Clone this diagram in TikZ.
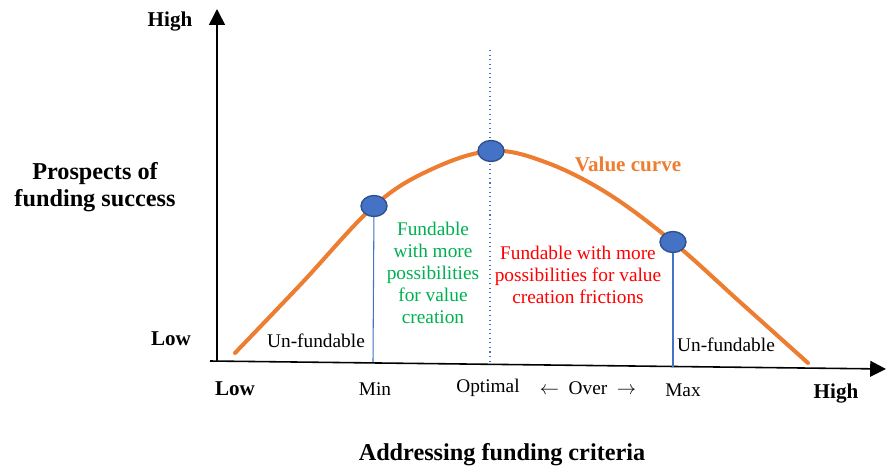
\documentclass[tikz,border=0pt]{standalone}
\usepackage{fontspec}
\setmainfont{Liberation Serif}
\usetikzlibrary{arrows.meta,shapes.geometric}
\definecolor{curveorange}{RGB}{237,125,49}
\definecolor{dotblue}{RGB}{68,114,196}
\definecolor{dotedge}{RGB}{47,82,143}
\definecolor{fundgreen}{RGB}{0,176,80}
\definecolor{fundred}{RGB}{255,0,0}

\begin{document}
\begin{tikzpicture}[x=0.02cm,y=-0.02cm,
  valdot/.style={ellipse,draw=dotedge,fill=dotblue,line width=0.8pt,minimum width=0.52cm,minimum height=0.42cm,inner sep=0pt},
  lbl/.style={font=\fontsize{11}{12.5}\selectfont},
  endlbl/.style={font=\fontsize{12}{14}\selectfont\bfseries},
  axtitle/.style={font=\fontsize{13.8}{15.5}\selectfont\bfseries,align=center},
  axisline/.style={line width=0.9pt,-{Triangle[length=9pt,width=9pt]}},
  guide/.style={dotblue,line width=0.6pt}]
\useasboundingbox (0,0) rectangle (887,467);

% axes
\coordinate (origin) at (217,362);
\coordinate (ytop) at (217,9);
\coordinate (xleft) at (210,361);
\coordinate (xright) at (886,369);
\draw[axisline] (origin) -- (ytop);
\draw[axisline] (xleft) -- (xright);

% guide lines
\coordinate (minbase) at (373,362);
\coordinate (opttop) at (490,50);
\coordinate (optbase) at (490,363);
\coordinate (maxbase) at (673,367);
\draw[guide,dotted] (opttop) -- (optbase);

% value curve
\draw[curveorange,line width=2.3pt,line cap=round] plot[smooth,tension=0.6] coordinates
  {(235,353) (301,284) (374,206) (430,170) (491,151) (545,162) (607,193) (673,242) (740,302) (808,363)};

\node[valdot] (mn) at (374,206) {};
\node[valdot] (pk) at (491,151) {};
\node[valdot] (mx) at (673,242) {};
\draw[guide] (mn) -- (minbase);
\draw[guide] (mx) -- (maxbase);

% axis labels
\node[endlbl] (yhigh) at (170,22) {High};
\node[endlbl] (ylow) at (171,339) {Low};
\node[axtitle] (ytitle) at (95,187) {Prospects of\\funding success};
\node[endlbl] (xlow) at (235,389) {Low};
\node[lbl] (xmin) at (375,389) {Min};
\node[lbl] (xopt) at (488,388) {Optimal};
\node[lbl] (xover) at (588,388) {$\leftarrow$\enspace Over\enspace$\rightarrow$};
\node[lbl] (xmax) at (683,390) {Max};
\node[endlbl] (xhigh) at (836,394) {High};
\node[axtitle] (xtitle) at (502,455) {Addressing funding criteria};

% regions
\node[lbl] (unleft) at (316,341) {Un-fundable};
\node[lbl] (unright) at (726,345) {Un-fundable};
\node[font=\fontsize{12}{14}\selectfont\bfseries,text=curveorange] (vc) at (628,164) {Value curve};
\node[lbl,text=fundgreen,align=center] (green) at (433,273) {Fundable\\with more\\possibilities\\for value\\creation};
\node[lbl,text=fundred,align=center] (red) at (578,275) {Fundable with more\\possibilities for value\\creation frictions};
\end{tikzpicture}
\end{document}
